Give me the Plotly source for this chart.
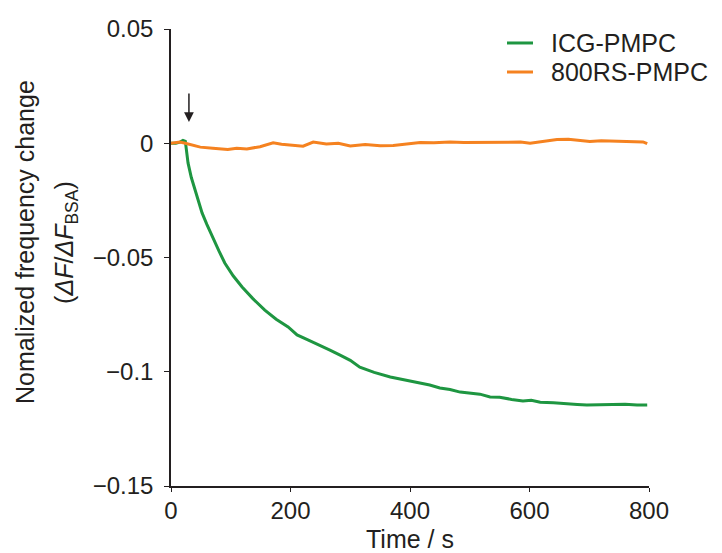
import plotly.graph_objects as go

# ICG-PMPC trace
icg_time = [0, 8, 15, 20, 24, 28.5, 34, 40, 46, 52, 60, 69, 80, 90, 104, 119, 137, 157, 176, 196,
            211, 230, 249, 266, 283, 300, 316, 340, 367, 392, 417, 433, 450, 467, 484, 500,
            517, 534, 550, 570, 589, 603, 618, 640, 660, 680, 696, 720, 740, 760, 780, 797]
icg_value = [0, 0, 0.0005, 0.0012, 0.0008, -0.0086, -0.015, -0.0205, -0.0255, -0.0305, -0.0355,
             -0.041, -0.047, -0.0524, -0.058, -0.0629, -0.068, -0.073, -0.077, -0.0804,
             -0.0839, -0.0862, -0.0883, -0.0905, -0.0927, -0.095, -0.098, -0.1003, -0.1023,
             -0.1035, -0.105, -0.1058, -0.1071, -0.1078, -0.1089, -0.1092,
             -0.1098, -0.111, -0.1112, -0.1121, -0.1128, -0.1125, -0.1133, -0.1136, -0.1141,
             -0.1143, -0.1145, -0.1145, -0.1145, -0.1142, -0.1146, -0.1145]

# 800RS-PMPC trace
rs_time = [0, 8, 15, 24, 32, 49, 70, 95, 110, 127, 149, 171, 185, 199, 221, 238, 260, 280, 300,
           325, 350, 372, 395, 417, 440, 467, 490, 517, 540, 567, 585, 601, 626, 646, 665,
           685, 701, 720, 735, 755, 777, 790, 797]
rs_value = [0, 0.0002, 0.0005, 0, -0.0005, -0.0017, -0.0022, -0.0027, -0.0022, -0.0025, -0.0015,
            0.0002, -0.0004, -0.0008, -0.0013, 0.0005, -0.0003, 0, -0.0012, -0.0006, -0.0011,
            -0.001, -0.0002, 0.0003, 0.0002, 0.0006, 0.0003, 0.0004, 0.0002, 0.0003, 0.0005,
            0.0, 0.001, 0.0016, 0.0017, 0.0012, 0.0008, 0.0011, 0.001, 0.0009, 0.001, 0.0006,
            -0.0002]

series_names = ["ICG-PMPC", "800RS-PMPC"]
series_colors = ["#1e9641", "#f58220"]

ink = "#231f20"
font = "Liberation Sans, Arial, sans-serif"

data = [
    go.Scatter(x=icg_time, y=icg_value, mode="lines", name=series_names[0],
               line=dict(color=series_colors[0], width=3), showlegend=False),
    go.Scatter(x=rs_time, y=rs_value, mode="lines", name=series_names[1],
               line=dict(color=series_colors[1], width=3), showlegend=False),
]

# legend drawn by hand (a native legend here would push the right margin)
legend_rows = [0.9694, 0.9059]
shapes = []
annotations = []
for name, color, ly in zip(series_names, series_colors, legend_rows):
    shapes.append(dict(type="line", xref="paper", yref="paper", x0=0.7029, x1=0.7573,
                       y0=ly, y1=ly, line=dict(color=color, width=3)))
    annotations.append(dict(text=name, xref="paper", yref="paper", x=0.7908, y=ly,
                            xanchor="left", yanchor="middle", showarrow=False,
                            font=dict(size=25, color=ink)))

annotations += [
    dict(x=30, y=0.0093, ax=30, ay=0.0224, xref="x", yref="y", axref="x", ayref="y",
         showarrow=True, arrowhead=2, arrowsize=1.3, arrowwidth=1.5, arrowcolor=ink, text=""),
    dict(text="Nomalized frequency change",
         xref="paper", yref="paper", x=-0.3054, y=0.534, xanchor="center", yanchor="middle",
         textangle=-90, showarrow=False, font=dict(size=25, color=ink)),
    dict(text="(<i>ΔF</i>/<i>ΔF</i><sub>BSA</sub>)",
         xref="paper", yref="paper", x=-0.2197, y=0.534, xanchor="center", yanchor="middle",
         textangle=-90, showarrow=False, font=dict(size=25, color=ink)),
    dict(text="Time / s", xref="paper", yref="paper", x=0.5, y=-0.116,
         xanchor="center", yanchor="middle", showarrow=False,
         font=dict(size=25, color=ink)),
]

# the page body has an 8px margin, so the figure is offset by 8px
layout = go.Layout(
    width=714, height=545,
    margin=dict(l=163, r=73, t=21, b=67),
    paper_bgcolor="white", plot_bgcolor="white",
    font=dict(family=font, size=25, color=ink),
    xaxis=dict(range=[0, 800], dtick=200, showline=True, linecolor=ink, linewidth=1.5,
               ticks="outside", ticklen=4, tickcolor=ink, showgrid=False, zeroline=False,
               tickfont=dict(size=24), automargin=False, ticklabelstandoff=-2),
    yaxis=dict(range=[-0.15, 0.05], dtick=0.05, showline=True, linecolor=ink, linewidth=1.5,
               ticks="outside", ticklen=5, tickcolor=ink, showgrid=False, zeroline=False,
               tickfont=dict(size=24), ticklabelstandoff=6, automargin=False),
    showlegend=False,
    shapes=shapes,
    annotations=annotations,
)

fig = go.Figure(data=data, layout=layout)
fig.write_html("out.html")
